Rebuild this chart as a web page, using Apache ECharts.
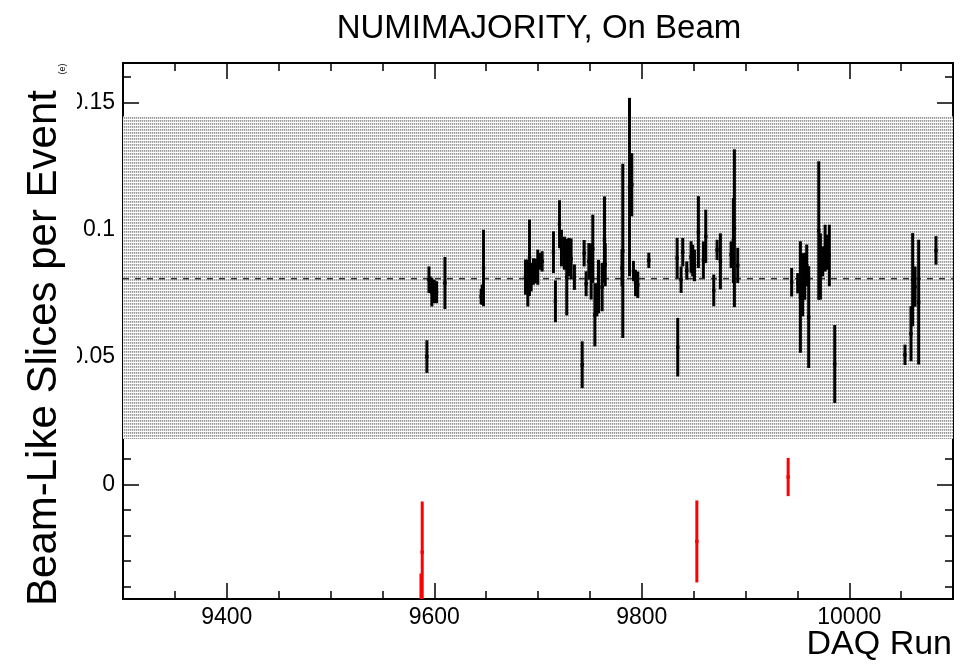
<!DOCTYPE html>
<html><head><meta charset="utf-8">
<script src="https://cdn.jsdelivr.net/npm/echarts@6/dist/echarts.min.js"></script>
<style>html,body{margin:0;padding:0;background:#fff}#c{width:974px;height:664px}</style>
</head><body><div id="c"></div>
<script>
// ---- data ----
const goodRuns = [9592.9,9594.9,9596.1,9597.7,9600.0,9602.2,9610.3,9645.2,9646.2,9647.5,
  9687.9,9690.2,9691.8,9693.4,9695.6,9697.5,9699.8,9701.4,9704.0,9714.9,9716.8,9720.7,9722.6,9725.5,9727.7,9729.7,9731.9,9735.1,
  9742.6,9744.5,9746.4,9749.0,9751.2,9752.8,9754.8,9756.7,9758.3,9761.8,9764.1,9764.8,9781.0,9781.7,9788.2,9790.4,9792.0,9794.0,9796.2,9806.8,
  9834.1,9834.7,9837.9,9839.5,9843.4,9847.5,9849.1,9850.8,9854.6,9859.4,9861.7,9869.4,9872.6,9875.8,9886.1,9888.3,9889.3,9892.5,
  9944.5,9950.3,9952.9,9955.1,9957.1,9959.0,9960.9,9970.6,9972.2,9974.4,9976.7,9978.6,9980.8,9986.0,
  10053.7,10059.5,10061.1,10063.4,10066.9,10083.6];
const goodValues = [0.0502,0.0804,0.0784,0.0755,0.0758,0.0755,0.0791,0.0738,0.0745,0.0850,
  0.0814,0.0791,0.0890,0.0814,0.0836,0.0838,0.0853,0.0876,0.0876,0.0912,0.0719,0.1022,0.0928,0.0908,0.0814,0.0893,0.0886,0.0814,
  0.0470,0.0908,0.0788,0.0876,0.0836,0.0925,0.0666,0.0725,0.0777,0.0775,0.0961,0.0863,0.0850,0.0917,0.1168,0.1177,0.0838,0.0791,0.0784,0.0880,
  0.0889,0.0539,0.0804,0.0912,0.0840,0.0893,0.0879,0.0860,0.0991,0.0882,0.0974,0.0762,0.0921,0.0876,0.0902,0.0958,0.1006,0.0860,
  0.0794,0.0790,0.0736,0.0784,0.0817,0.0860,0.0657,0.0997,0.0856,0.0876,0.0928,0.0912,0.0899,0.0473,
  0.0509,0.0592,0.0804,0.0777,0.0716,0.0919];
const goodErrors = [0.0064,0.0052,0.0033,0.0056,0.0046,0.0043,0.0102,0.0030,0.0040,0.0150,
  0.0069,0.0092,0.0150,0.0056,0.0052,0.0049,0.0069,0.0033,0.0040,0.0082,0.0082,0.0094,0.0072,0.0065,0.0150,0.0075,0.0080,0.0050,
  0.0092,0.0052,0.0049,0.0072,0.0110,0.0134,0.0124,0.0065,0.0105,0.0095,0.0170,0.0085,0.0072,0.0342,0.0350,0.0124,0.0040,0.0052,0.0052,0.0030,
  0.0079,0.0115,0.0052,0.0056,0.0036,0.0062,0.0062,0.0062,0.0141,0.0072,0.0105,0.0062,0.0040,0.0110,0.0052,0.0167,0.0310,0.0069,
  0.0056,0.0040,0.0219,0.0124,0.0092,0.0082,0.0200,0.0272,0.0130,0.0059,0.0092,0.0069,0.0121,0.0153,
  0.0040,0.0108,0.0183,0.0079,0.0245,0.0056];
const badRuns = [9587.2, 9588.4, 9853.1, 9941.1];
const badValues = [-0.047, -0.0266, -0.0224, 0.0029];
const badErrors = [0.012, 0.0199, 0.0161, 0.0075];
const meanValue = 0.0808;
const bandLow = 0.0178;
const bandHigh = 0.1445;
const xRange = [9300, 10100];
const yRange = [-0.045, 0.1655];
const xMajorTicks = [9400, 9600, 9800, 10000];
const xMinorTicks = [9300,9350,9450,9500,9550,9650,9700,9750,9850,9900,9950,10050,10100];
const yMajorTicks = [0, 0.05, 0.1, 0.15];
const yMinorTicks = [-0.04,-0.03,-0.02,-0.01,0.01,0.02,0.03,0.04,0.06,0.07,0.08,0.09,0.11,0.12,0.13,0.14,0.16];
const titleText = 'NUMIMAJORITY, On Beam';
const xTitle = 'DAQ Run';
const yTitle = 'Beam-Like Slices per Event';

// ---- rendering ----
const FONT = "'Liberation Sans', Arial, sans-serif";
const pc = document.createElement('canvas'); pc.width = 2; pc.height = 3;
const pctx = pc.getContext('2d');
pctx.fillStyle = '#fff'; pctx.fillRect(0, 0, 2, 3);
pctx.fillStyle = '#999'; pctx.fillRect(0, 0, 1, 1);
pctx.fillStyle = '#ddd'; pctx.fillRect(1, 0, 1, 1);
pctx.fillStyle = '#aaa'; pctx.fillRect(0, 1, 1, 1);
pctx.fillStyle = '#e6e6e6'; pctx.fillRect(1, 1, 1, 1);

const goodData = goodRuns.map((r, i) => [r, goodValues[i], goodErrors[i]]);
const badData = badRuns.map((r, i) => [r, badValues[i], badErrors[i]]);

function errBar(color, w) {
  return function (params, api) {
    const x = api.value(0), v = api.value(1), e = api.value(2);
    const t = api.coord([x, v + e]), b = api.coord([x, v - e]), c = api.coord([x, v]);
    return { type: 'group', children: [
      { type: 'line', shape: { x1: t[0], y1: t[1], x2: b[0], y2: b[1] }, style: { stroke: color, lineWidth: w } },
      { type: 'rect', shape: { x: c[0] - 1.7, y: c[1] - 1.7, width: 3.4, height: 3.4 }, style: { fill: color } }
    ] };
  };
}

const lineStyle = { color: '#000', width: 2 };
const plainNum = v => String(v);
function xAx(pos, ticks, len, labels) {
  return { type: 'value', position: pos, min: xRange[0], max: xRange[1], gridIndex: 0,
    axisLine: { show: true, onZero: false, lineStyle }, splitLine: { show: false },
    axisTick: { show: true, inside: true, length: len, customValues: ticks, lineStyle: { color: '#000', width: 1.5 } },
    axisLabel: labels ? { show: true, customValues: ticks, formatter: plainNum, fontSize: 23, fontFamily: FONT, color: '#000', margin: 7 } : { show: false } };
}
function yAx(pos, ticks, len, labels) {
  return { type: 'value', position: pos, min: yRange[0], max: yRange[1], gridIndex: 0,
    axisLine: { show: true, onZero: false, lineStyle }, splitLine: { show: false },
    axisTick: { show: true, inside: true, length: len, customValues: ticks, lineStyle: { color: '#000', width: 1.5 } },
    axisLabel: labels ? { show: true, customValues: ticks, formatter: plainNum, fontSize: 23, fontFamily: FONT, color: '#000', margin: 8 } : { show: false } };
}

const chart = echarts.init(document.getElementById('c'), null, { renderer: 'canvas' });
chart.setOption({
  animation: false,
  backgroundColor: '#fff',
  grid: { left: 123, right: 21, top: 63, bottom: 65, containLabel: false },
  xAxis: [xAx('bottom', xMajorTicks, 16, true), xAx('bottom', xMinorTicks, 8, false), xAx('top', xMajorTicks, 16, false), xAx('top', xMinorTicks, 8, false)],
  yAxis: [yAx('left', yMajorTicks, 16, true), yAx('left', yMinorTicks, 8, false), yAx('right', yMajorTicks, 16, false), yAx('right', yMinorTicks, 8, false)],
  series: [
    { type: 'custom', name: 'band', data: [[bandLow, bandHigh]], clip: true, z: 1,
      renderItem: function (params, api) {
        const p1 = api.coord([xRange[0], api.value(1)]), p2 = api.coord([xRange[1], api.value(0)]);
        return { type: 'rect', shape: { x: p1[0], y: p1[1], width: p2[0] - p1[0], height: p2[1] - p1[1] },
          style: { fill: { image: pc, repeat: 'repeat' } } };
      }, encode: { x: -1, y: [0, 1] } },
    { type: 'line', name: 'mean', data: [[xRange[0], meanValue], [xRange[1], meanValue]], symbol: 'none', z: 2,
      lineStyle: { color: '#333', width: 1.5, type: [6, 6] } },
    { type: 'custom', name: 'good', data: goodData, renderItem: errBar('#000', 3), clip: true, z: 3, encode: { x: 0, y: 1 } },
    { type: 'custom', name: 'bad', data: badData, renderItem: errBar('#ff0000', 3), clip: true, z: 4, encode: { x: 0, y: 1 } }
  ],
  graphic: [
    { type: 'rect', z: 100, shape: { x: 66, y: 60, width: 11, height: 320 }, style: { fill: '#fff' } },
    { type: 'text', z: 101, x: 539, y: 29, style: { text: titleText, font: '33px ' + FONT, fill: '#000', textAlign: 'center', textVerticalAlign: 'middle' } },
    { type: 'text', z: 101, x: 952, y: 645, style: { text: xTitle, font: '34px ' + FONT, fill: '#000', textAlign: 'right', textVerticalAlign: 'middle' } },
    { type: 'text', z: 101, x: 44, y: 348, rotation: Math.PI / 2, style: { text: yTitle, font: '42px ' + FONT, fill: '#000', textAlign: 'center', textVerticalAlign: 'middle' } },
    { type: 'text', z: 101, x: 63, y: 69, rotation: Math.PI / 2, style: { text: '(e)', font: '9px ' + FONT, fill: '#000', textAlign: 'center', textVerticalAlign: 'middle' } }
  ]
});
</script></body></html>
